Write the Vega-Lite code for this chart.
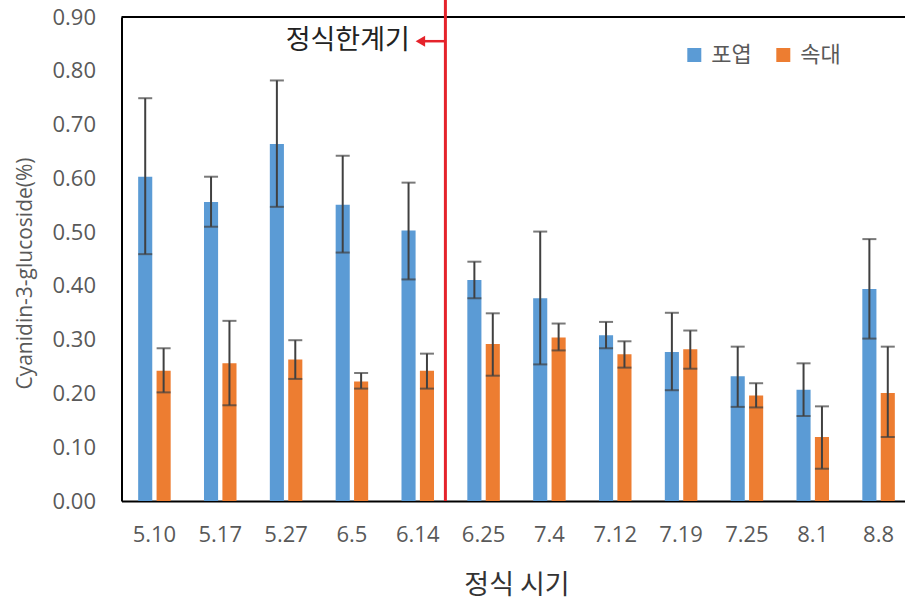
{
  "$schema": "https://vega.github.io/schema/vega-lite/v6.json",
  "width": 790,
  "height": 484,
  "autosize": {"type": "none"},
  "padding": {"left": 121.5, "top": 17, "right": 0, "bottom": 99},
  "background": "white",
  "config": {
    "view": {"stroke": null},
    "font": "Open Sans"
  },
  "datasets": {
    "bars": [
      {"date": "5.10", "series": "포엽", "value": 0.603, "lo": 0.459, "hi": 0.749},
      {"date": "5.10", "series": "속대", "value": 0.242, "lo": 0.202, "hi": 0.284},
      {"date": "5.17", "series": "포엽", "value": 0.556, "lo": 0.510, "hi": 0.603},
      {"date": "5.17", "series": "속대", "value": 0.256, "lo": 0.178, "hi": 0.335},
      {"date": "5.27", "series": "포엽", "value": 0.664, "lo": 0.547, "hi": 0.782},
      {"date": "5.27", "series": "속대", "value": 0.263, "lo": 0.227, "hi": 0.299},
      {"date": "6.5", "series": "포엽", "value": 0.551, "lo": 0.462, "hi": 0.642},
      {"date": "6.5", "series": "속대", "value": 0.222, "lo": 0.209, "hi": 0.238},
      {"date": "6.14", "series": "포엽", "value": 0.503, "lo": 0.412, "hi": 0.592},
      {"date": "6.14", "series": "속대", "value": 0.242, "lo": 0.209, "hi": 0.274},
      {"date": "6.25", "series": "포엽", "value": 0.411, "lo": 0.377, "hi": 0.445},
      {"date": "6.25", "series": "속대", "value": 0.292, "lo": 0.233, "hi": 0.349},
      {"date": "7.4", "series": "포엽", "value": 0.377, "lo": 0.254, "hi": 0.501},
      {"date": "7.4", "series": "속대", "value": 0.304, "lo": 0.280, "hi": 0.330},
      {"date": "7.12", "series": "포엽", "value": 0.308, "lo": 0.284, "hi": 0.333},
      {"date": "7.12", "series": "속대", "value": 0.273, "lo": 0.248, "hi": 0.297},
      {"date": "7.19", "series": "포엽", "value": 0.277, "lo": 0.206, "hi": 0.350},
      {"date": "7.19", "series": "속대", "value": 0.282, "lo": 0.246, "hi": 0.317},
      {"date": "7.25", "series": "포엽", "value": 0.232, "lo": 0.175, "hi": 0.287},
      {"date": "7.25", "series": "속대", "value": 0.196, "lo": 0.174, "hi": 0.219},
      {"date": "8.1", "series": "포엽", "value": 0.207, "lo": 0.158, "hi": 0.256},
      {"date": "8.1", "series": "속대", "value": 0.119, "lo": 0.060, "hi": 0.176},
      {"date": "8.8", "series": "포엽", "value": 0.394, "lo": 0.302, "hi": 0.487},
      {"date": "8.8", "series": "속대", "value": 0.201, "lo": 0.119, "hi": 0.287}
    ],
    "limit": [
      {"date": "6.14", "label": "정식한계기", "yline0": 0, "yline1": 0.935, "ylabel": 0.855, "ytop": 0.9}
    ]
  },
  "layer": [
    {
      "data": {"name": "bars"},
      "mark": {"type": "bar"},
      "encoding": {
        "x": {
          "field": "date",
          "type": "nominal",
          "scale": {
            "domain": ["5.10", "5.17", "5.27", "6.5", "6.14", "6.25", "7.4", "7.12", "7.19", "7.25", "8.1", "8.8"],
            "paddingInner": 0,
            "paddingOuter": 0
          },
          "axis": {
            "title": "정식 시기",
            "titleFont": "Noto Sans CJK KR",
            "titleFontSize": 27,
            "titleFontWeight": "normal",
            "titleColor": "#333333",
            "titleBaseline": "middle",
            "titleY": 84,
            "labelAngle": 0,
            "labelFontSize": 22,
            "labelColor": "#595959",
            "labelPadding": 23,
            "ticks": false,
            "domain": true,
            "domainColor": "black",
            "domainWidth": 2
          }
        },
        "xOffset": {
          "field": "series",
          "type": "nominal",
          "scale": {"domain": ["포엽", "속대"], "paddingInner": 0.234, "paddingOuter": 0.905}
        },
        "y": {
          "field": "value",
          "type": "quantitative",
          "scale": {"domain": [0, 0.9], "nice": false, "zero": true},
          "axis": {
            "title": "Cyanidin-3-glucoside(%)",
            "titleFontSize": 21,
            "titleFontWeight": "normal",
            "titleColor": "#595959",
            "titleAlign": "center",
            "titleBaseline": "middle",
            "titleAngle": -90,
            "titleX": -96,
            "titleY": 256,
            "values": [0, 0.1, 0.2, 0.3, 0.4, 0.5, 0.6, 0.7, 0.8, 0.9],
            "format": ".2f",
            "labelFontSize": 22,
            "labelColor": "#595959",
            "labelPadding": 26,
            "ticks": false,
            "domain": true,
            "domainColor": "black",
            "domainWidth": 2,
            "grid": false
          }
        },
        "color": {
          "field": "series",
          "type": "nominal",
          "scale": {"domain": ["포엽", "속대"], "range": ["#5B9BD5", "#ED7D31"]},
          "legend": {
            "orient": "none",
            "legendX": 561.8,
            "legendY": 27,
            "direction": "horizontal",
            "title": null,
            "symbolType": "square",
            "symbolSize": 196,
            "symbolStrokeWidth": 0,
            "labelFont": "Noto Sans CJK KR",
            "labelFontSize": 22,
            "labelColor": "#595959",
            "labelOffset": 6,
            "columnPadding": 20,
            "padding": 0
          }
        }
      }
    },
    {
      "data": {"name": "limit"},
      "mark": {"type": "rule", "color": "black", "strokeWidth": 2},
      "encoding": {
        "y": {"field": "ytop", "type": "quantitative"}
      }
    },
    {
      "data": {"name": "bars"},
      "mark": {"type": "rule", "color": "#404040", "strokeWidth": 2},
      "encoding": {
        "x": {"field": "date", "type": "nominal"},
        "xOffset": {"field": "series", "type": "nominal"},
        "y": {"field": "lo", "type": "quantitative"},
        "y2": {"field": "hi"}
      }
    },
    {
      "data": {"name": "bars"},
      "mark": {"type": "tick", "color": "#404040", "thickness": 2, "size": 14, "orient": "horizontal"},
      "encoding": {
        "x": {"field": "date", "type": "nominal"},
        "xOffset": {"field": "series", "type": "nominal"},
        "y": {"field": "lo", "type": "quantitative"}
      }
    },
    {
      "data": {"name": "bars"},
      "mark": {"type": "tick", "color": "#404040", "thickness": 2, "size": 14, "orient": "horizontal"},
      "encoding": {
        "x": {"field": "date", "type": "nominal"},
        "xOffset": {"field": "series", "type": "nominal"},
        "y": {"field": "hi", "type": "quantitative"}
      }
    },
    {
      "data": {"name": "limit"},
      "mark": {"type": "rule", "color": "#E5232B", "strokeWidth": 3},
      "encoding": {
        "x": {"field": "date", "type": "nominal", "bandPosition": 0.92},
        "y": {"field": "yline0", "type": "quantitative"},
        "y2": {"field": "yline1"}
      }
    },
    {
      "data": {"name": "limit"},
      "mark": {"type": "rule", "color": "#E5232B", "strokeWidth": 2.5},
      "encoding": {
        "x": {"field": "date", "type": "nominal", "bandPosition": 0.6},
        "x2": {"field": "date", "bandPosition": 0.92},
        "y": {"field": "ylabel", "type": "quantitative"}
      }
    },
    {
      "data": {"name": "limit"},
      "mark": {"type": "point", "shape": "triangle-left", "filled": true, "color": "#E5232B", "size": 120, "opacity": 1},
      "encoding": {
        "x": {"field": "date", "type": "nominal", "bandPosition": 0.54},
        "y": {"field": "ylabel", "type": "quantitative"}
      }
    },
    {
      "data": {"name": "limit"},
      "mark": {"type": "text", "align": "right", "baseline": "middle", "font": "Noto Sans CJK KR", "fontSize": 27, "color": "#222222"},
      "encoding": {
        "x": {"field": "date", "type": "nominal", "bandPosition": 0.38},
        "y": {"field": "ylabel", "type": "quantitative"},
        "text": {"field": "label"}
      }
    }
  ]
}
